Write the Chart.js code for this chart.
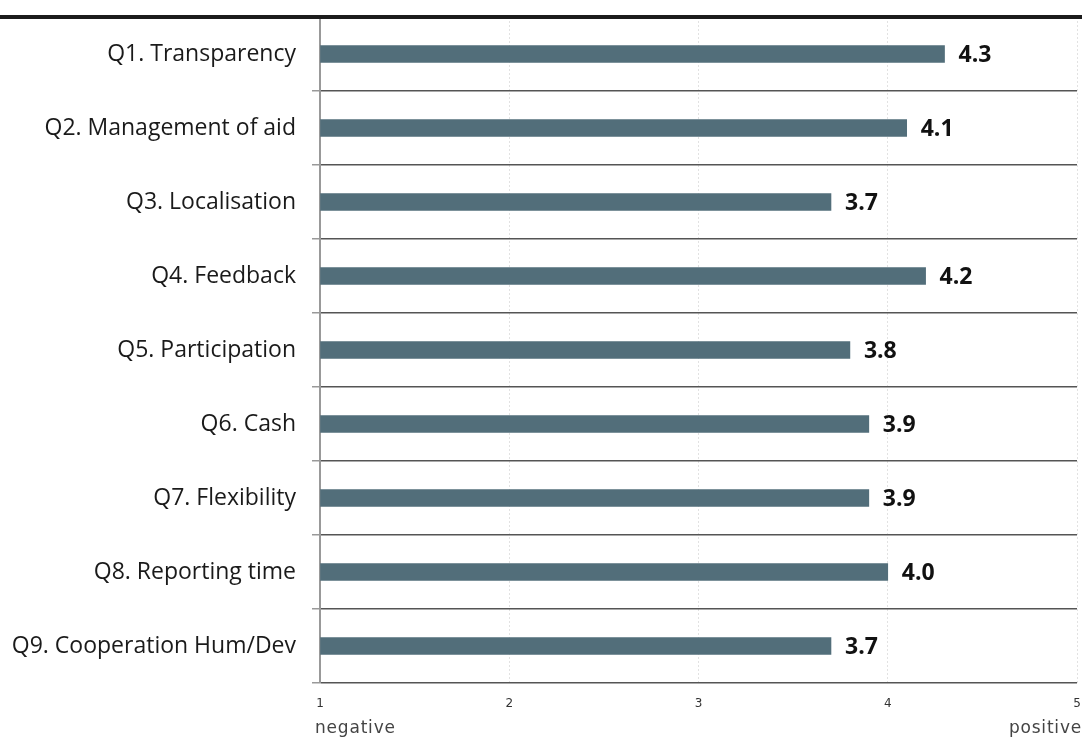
<!DOCTYPE html>
<html lang="en">
<head>
    <meta charset="UTF-8">
    <title>Survey scores</title>
    <style>
        body {
            margin: 0;
            background-color: #ffffff;
            font-family: "Open Sans", sans-serif;
        }
        .chart-box {
            width: 1082px;
            height: 738px;
        }
    </style>
    <script src="https://cdn.jsdelivr.net/npm/chart.js"></script>
</head>
<body>
    <div class="chart-box">
        <canvas id="scoreChart" width="1082" height="738"></canvas>
    </div>

    <script>
        const questions = [
            'Q1. Transparency',
            'Q2. Management of aid',
            'Q3. Localisation',
            'Q4. Feedback',
            'Q5. Participation',
            'Q6. Cash',
            'Q7. Flexibility',
            'Q8. Reporting time',
            'Q9. Cooperation Hum/Dev'
        ];
        const scores = [4.3, 4.1, 3.7, 4.2, 3.8, 3.9, 3.9, 4.0, 3.7];
        const scaleEnds = ['negative', 'positive'];

        // thick rule on top + "negative"/"positive" under the axis
        const decorations = {
            id: 'decorations',
            afterDraw(chart) {
                const ctx = chart.ctx;
                const area = chart.chartArea;
                ctx.save();
                ctx.fillStyle = '#1c1c1c';
                ctx.fillRect(0, area.top - 2, chart.width, 4);

                ctx.font = '17px "DejaVu Sans", sans-serif';
                ctx.letterSpacing = '0.8px';
                ctx.fillStyle = '#444444';
                ctx.textBaseline = 'middle';
                ctx.textAlign = 'left';
                ctx.fillText(scaleEnds[0], area.left - 5, 729);
                ctx.textAlign = 'right';
                ctx.fillText(scaleEnds[1], chart.width, 729);
                ctx.restore();
            }
        };

        // bold value next to each bar
        const valueLabels = {
            id: 'valueLabels',
            afterDatasetsDraw(chart) {
                const ctx = chart.ctx;
                const meta = chart.getDatasetMeta(0);
                ctx.save();
                ctx.font = 'bold 23px "Open Sans", sans-serif';
                ctx.fillStyle = '#111111';
                ctx.textAlign = 'left';
                ctx.textBaseline = 'middle';
                meta.data.forEach((bar, i) => {
                    ctx.fillText(scores[i].toFixed(1), bar.x + 14, bar.y + 1);
                });
                ctx.restore();
            }
        };

        const ctx = document.getElementById('scoreChart').getContext('2d');
        new Chart(ctx, {
            type: 'bar',
            data: {
                labels: questions,
                datasets: [{
                    data: scores,
                    base: 1,
                    backgroundColor: '#526e7a',
                    barThickness: 17
                }]
            },
            options: {
                indexAxis: 'y',
                responsive: false,
                animation: false,
                layout: {
                    padding: { top: 17, right: 5 }
                },
                plugins: {
                    legend: { display: false },
                    tooltip: { enabled: false }
                },
                scales: {
                    x: {
                        min: 1,
                        max: 5,
                        afterFit(scale) {
                            scale.height = 55;
                            scale.paddingLeft = 0;
                            scale.paddingRight = 0;
                        },
                        ticks: {
                            stepSize: 1,
                            padding: 14,
                            color: '#333333',
                            font: { family: 'DejaVu Sans', size: 12 }
                        },
                        grid: {
                            color: '#e2e2e2',
                            drawTicks: false
                        },
                        border: { display: false, dash: [2, 2] }
                    },
                    y: {
                        afterFit(scale) {
                            scale.width = 320;
                            scale.paddingTop = 0;
                            scale.paddingBottom = 0;
                        },
                        ticks: {
                            padding: 16,
                            color: '#1a1a1a',
                            font: { family: 'Open Sans', size: 23 }
                        },
                        grid: {
                            color: '#555555',
                            lineWidth: 1.5,
                            tickColor: '#999999',
                            tickLength: 8
                        },
                        border: { color: '#999999', width: 2 }
                    }
                }
            },
            plugins: [decorations, valueLabels]
        });
    </script>
</body>
</html>
